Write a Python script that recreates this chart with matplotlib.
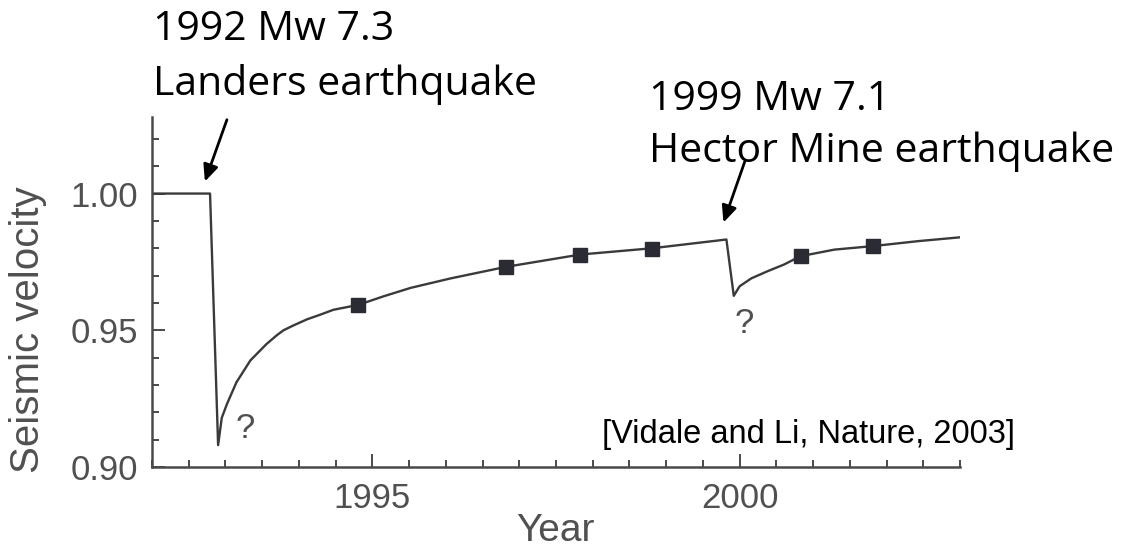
import numpy as np
import matplotlib
matplotlib.use("Agg")
import matplotlib.pyplot as plt
from matplotlib.ticker import MultipleLocator, FixedLocator

# velocity history (normalised)
years = [1992.0, 1992.79, 1992.90, 1992.95, 1993.02, 1993.15, 1993.34, 1993.56,
         1993.70, 1993.79, 1993.92, 1994.11, 1994.29, 1994.47, 1994.81, 1995.15,
         1995.52, 1996.07, 1996.82, 1997.83, 1998.81, 1999.82, 1999.92, 2000.0,
         2000.16, 2000.38, 2000.6, 2000.83, 2001.29, 2001.82, 2002.43, 2003.0]
velocity = [1.000, 1.000, 0.908, 0.918, 0.923, 0.931, 0.939, 0.945,
            0.9482, 0.950, 0.9517, 0.954, 0.9557, 0.9575, 0.9593, 0.9624,
            0.9655, 0.969, 0.9732, 0.9777, 0.980, 0.9832, 0.9626, 0.9661,
            0.9690, 0.9716, 0.9740, 0.9771, 0.9795, 0.9808, 0.9826, 0.984]

# measured points (squares)
obs_years = [1994.81, 1996.82, 1997.83, 1998.81, 2000.83, 2001.82]
obs_vel = [0.9593, 0.9732, 0.9777, 0.9799, 0.9771, 0.9808]

ytick_vals = [0.90, 0.95, 1.00]
ytick_labels = ["0.90", "0.95", "1.00"]
xtick_vals = [1995, 2000]

axcol = "#4a4a4a"
txtcol = "#505050"

fig = plt.figure(figsize=(11.29, 5.51), dpi=100)
ax = fig.add_axes([152/1129, 1 - 467/551, (960-152)/1129, (467-117)/551])

ax.plot(years, velocity, color="#3a3a3a", lw=1.7, zorder=2,
        solid_joinstyle="round")
ax.plot(obs_years, obs_vel, ls="none", marker="s", ms=10.5,
        color="#2b2b33", zorder=3)

ax.set_xlim(1992, 2003)
ax.set_ylim(0.90, 1.028)

for s in ["top", "right"]:
    ax.spines[s].set_visible(False)
for s in ["left", "bottom"]:
    ax.spines[s].set_color(axcol)
    ax.spines[s].set_linewidth(1.8)

ax.xaxis.set_major_locator(FixedLocator(xtick_vals))
ax.xaxis.set_minor_locator(MultipleLocator(0.5))
ax.yaxis.set_major_locator(FixedLocator(ytick_vals))
ax.yaxis.set_minor_locator(MultipleLocator(0.01))
ax.set_yticklabels(ytick_labels)

ax.tick_params(which="both", direction="in", color=axcol, width=1.4,
               labelsize=25, labelcolor=txtcol)
ax.tick_params(which="major", length=9.5)
ax.tick_params(which="minor", length=5)
ax.tick_params(axis="y", pad=10)
ax.tick_params(axis="x", pad=11)
for lab in ax.get_xticklabels() + ax.get_yticklabels():
    lab.set_family("Liberation Sans")

fig.text(28/1129, 1 - 330/551, "Seismic velocity", rotation=90, ha="center",
         va="center", fontsize=29, color=txtcol, family="Liberation Sans")
fig.text(555/1129, 1 - 531/551, "Year", ha="center", va="center",
         fontsize=28, color=txtcol, family="Liberation Sans")

# question marks at the two lows
ax.text(1993.27, 0.914, "?", ha="center", va="center", fontsize=25,
        color=txtcol, family="Liberation Sans")
ax.text(2000.06, 0.9525, "?", ha="center", va="center", fontsize=25,
        color=txtcol, family="Liberation Sans")

fig.text(1015/1129, 1 - 443/551, "[Vidale and Li, Nature, 2003]", ha="right",
         va="baseline", fontsize=23.5, color="black", family="Liberation Sans")

# earthquake labels and arrows
lab_font = dict(fontsize=29.5, family="Open Sans", ha="left", va="baseline")
fig.text(153/1129, 1 - 40/551, "1992 Mw 7.3", **lab_font)
fig.text(153/1129, 1 - 95/551, "Landers earthquake", **lab_font)
fig.text(649/1129, 1 - 110/551, "1999 Mw 7.1", **lab_font)
fig.text(649/1129, 1 - 162/551, "Hector Mine earthquake", **lab_font)

arrow = dict(arrowstyle="-|>,head_length=1.0,head_width=0.45", color="black",
             lw=2.0, shrinkA=0, shrinkB=0)
ax.annotate("", xy=(1992.72, 1.0044), xytext=(1993.02, 1.027),
            arrowprops=arrow, annotation_clip=False)
ax.annotate("", xy=(1999.78, 0.9894), xytext=(2000.07, 1.0117),
            arrowprops=arrow, annotation_clip=False)

fig.savefig("out.png", dpi=100)
